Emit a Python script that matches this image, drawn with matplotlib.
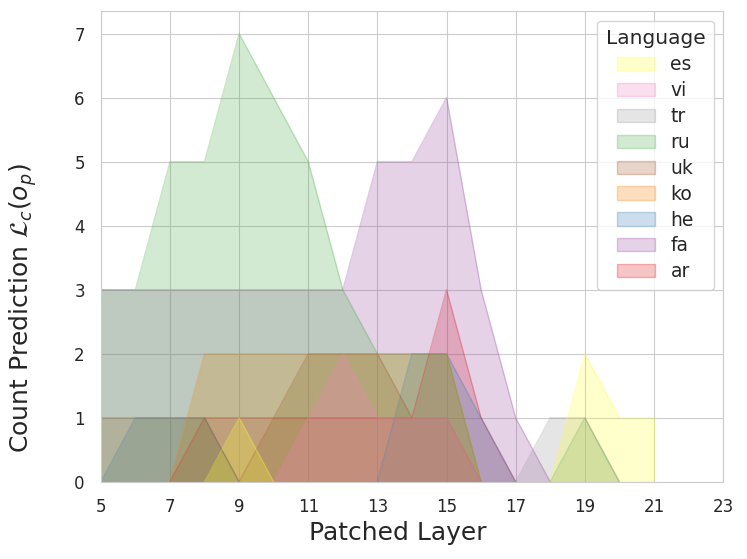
import numpy as np
import matplotlib.pyplot as plt
import seaborn as sns
from matplotlib.colors import to_rgba
from matplotlib.patches import Patch

nan = np.nan

# patched layers on the x axis
layers = list(range(5, 24))

# count predictions per layer for each language
es = [0, 0, 0, 0, 1, 0, 0, 0, 0, 0, 0, 0, 0, 0, 2, 1, 1, nan, nan]
vi = [0, 0, 0, 0, 0, 0, 1, 2, 1, 1, 1, 0, 0, 0, 0, 0, 0, 0, 0]
tr = [0, 0, 0, 0, 0, 0, 0, 0, 0, 0, 0, 0, 0, 1, 1, 0, 0, 0, 0]
ru = [3, 3, 5, 5, 7, 6, 5, 3, 2, 2, 2, 0, 0, 0, 1, 0, 0, 0, 0]
uk = [1, 1, 1, 1, 0, 1, 2, 2, 2, 1, 1, 0, 0, 0, 0, 0, 0, 0, 0]
ko = [0, 0, 0, 2, 2, 2, 2, 2, 2, 2, 2, 0, 0, 0, 0, 0, 0, 0, 0]
he = [0, 1, 1, 1, 0, 0, 0, 0, 0, 2, 2, 1, 0, 0, 0, 0, 0, 0, 0]
fa = [3, 3, 3, 3, 3, 3, 3, 3, 5, 5, 6, 3, 1, 0, 0, 0, 0, 0, 0]
ar = [0, 0, 0, 1, 1, 1, 1, 1, 1, 1, 3, 1, 0, 0, 0, 0, 0, 0, 0]

# legend order (top to bottom); drawn bottom-up in reverse
languages = ["es", "vi", "tr", "ru", "uk", "ko", "he", "fa", "ar"]
series = [es, vi, tr, ru, uk, ko, he, fa, ar]
colors = ["#ffff33", "#f781bf", "#999999", "#4daf4a", "#a65628",
          "#ff7f00", "#377eb8", "#984ea3", "#e41a1c"]

sns.set_style("whitegrid")
plt.rcParams['font.family'] = ['DejaVu Sans']

fig = plt.figure(figsize=(7.47, 5.59), dpi=100)
ax = fig.add_axes([0.135, 0.138, 0.833, 0.842])

x = np.array(layers, dtype=float)
for lang, vals, c in list(zip(languages, series, colors))[::-1]:
    y = np.array(vals, dtype=float)
    ok = ~np.isnan(y)
    ax.fill_between(x[ok], y[ok], 0, color=c, alpha=0.25, linewidth=0)
    # outline: skip stretches lying flat on zero
    edge = y.copy()
    flat = np.zeros(len(y), dtype=bool)
    for i in range(len(y)):
        left = i == 0 or edge[i - 1] == 0 or np.isnan(edge[i - 1])
        right = i == len(y) - 1 or edge[i + 1] == 0 or np.isnan(edge[i + 1])
        flat[i] = edge[i] == 0 and left and right
    edge[flat] = nan
    ax.plot(x, edge, color=c, alpha=0.3, linewidth=1)
    last = np.where(ok)[0][-1]
    if last < len(y) - 1:
        ax.plot([x[last], x[last]], [0, y[last]], color=c, alpha=0.3, linewidth=1)

ax.set_xlim(5, 23)
ax.set_ylim(0, 7.35)
ax.set_xticks(range(5, 24, 2))
ax.set_yticks(range(0, 8))
ax.tick_params(labelsize=12, pad=8)
ax.set_xlabel("Patched Layer", fontsize=18)
ax.set_ylabel(r"Count Prediction $\mathcal{L}_c(o_p)$", fontsize=18)
ax.xaxis.set_label_coords(0.478, -0.083)
ax.yaxis.set_label_coords(-0.1, 0.37)

handles = [Patch(facecolor=to_rgba(c, 0.25), edgecolor=to_rgba(c, 0.3),
                 linewidth=1, label=lang)
           for lang, c in zip(languages, colors)]
leg = ax.legend(handles=handles, title="Language", loc="upper right",
                fontsize=13.5, title_fontsize=14.5, borderpad=0.45,
                handlelength=2.05, handletextpad=0.8, labelspacing=0.37,
                borderaxespad=0.5)

fig.savefig("out.png", dpi=100)
